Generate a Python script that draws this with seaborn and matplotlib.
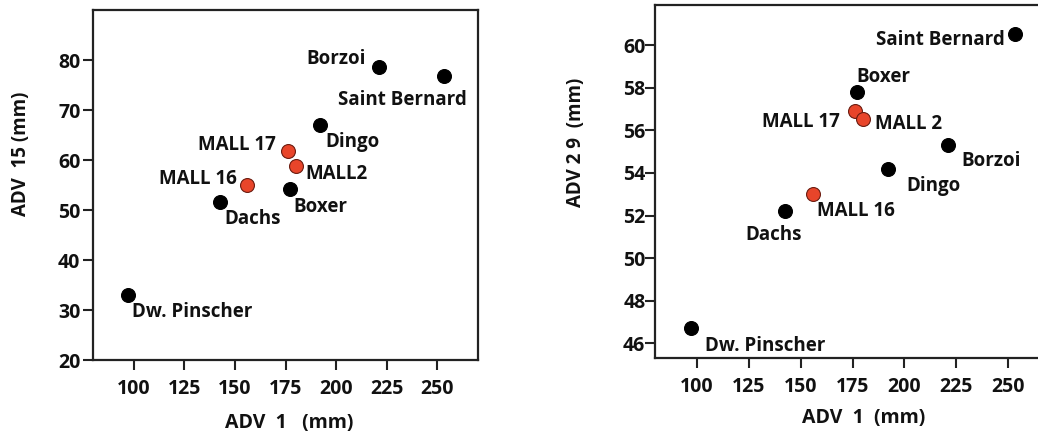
import matplotlib
matplotlib.use("Agg")
import matplotlib.pyplot as plt
import seaborn as sns
import pandas as pd

# Specimens and measurements (mm)
names = ["Dw. Pinscher", "Dachs", "MALL 16", "MALL 17", "MALL 2",
         "Boxer", "Dingo", "Borzoi", "Saint Bernard"]
group = ["dog", "dog", "fossil", "fossil", "fossil",
         "dog", "dog", "dog", "dog"]
adv1 = [97.5, 142.5, 156, 176, 180, 177, 192, 221, 253]
adv15 = [33.0, 51.7, 55.0, 61.9, 58.8, 54.3, 67.1, 78.7, 76.8]
adv29 = [46.7, 52.2, 53.0, 56.9, 56.55, 57.8, 54.2, 55.3, 60.55]

left_names = ["Dw. Pinscher", "Dachs", "MALL 16", "MALL 17", "MALL2",
              "Boxer", "Dingo", "Borzoi", "Saint Bernard"]

df = pd.DataFrame({"name": names, "group": group, "adv1": adv1,
                   "adv15": adv15, "adv29": adv29})

sns.set_theme(style="ticks")
plt.rcParams["font.family"] = ["Open Sans", "DejaVu Sans"]
plt.rcParams["font.weight"] = "bold"

palette = {"dog": "#000000", "fossil": "#e8452a"}
edges = {"dog": "#000000", "fossil": "#6b1c10"}
TXT = "#111111"
TICK_FS = 14
NOTE_FS = 13.5

fig = plt.figure(figsize=(10.38, 4.32), dpi=100)
ax1 = fig.add_axes([93 / 1038, 72 / 432, 385 / 1038, 350 / 432])
ax2 = fig.add_axes([655 / 1038, 74 / 432, 395 / 1038, 353 / 432])


def draw(ax, ycol):
    for g in ["dog", "fossil"]:
        sub = df[df["group"] == g]
        sns.scatterplot(data=sub, x="adv1", y=ycol, ax=ax, color=palette[g],
                        edgecolor=edges[g], linewidth=0.8, s=100, zorder=3,
                        legend=False)
    for side in ["top", "right", "left", "bottom"]:
        ax.spines[side].set_linewidth(1.6)
        ax.spines[side].set_color("#222222")
    ax.tick_params(axis="both", direction="out", length=7, width=1.5,
                   color="#222222", labelsize=TICK_FS, labelcolor=TXT)
    ax.set_xticks([100, 125, 150, 175, 200, 225, 250])
    for lab in ax.get_xticklabels() + ax.get_yticklabels():
        lab.set_fontweight("bold")


# Left panel: ADV 15 vs ADV 1
draw(ax1, "adv15")
ax1.set_xlim(80, 270)
ax1.set_ylim(20, 90)
ax1.set_yticks([20, 30, 40, 50, 60, 70, 80])
ax1.tick_params(axis="x", pad=7)
ax1.tick_params(axis="y", pad=2)
ax1.set_xlabel("ADV  1   (mm)", fontsize=14, fontweight="bold", color=TXT)
ax1.set_ylabel("ADV  15 (mm)", fontsize=13.5, fontweight="bold", color=TXT)
ax1.xaxis.set_label_coords(0.51, -0.152)
ax1.yaxis.set_label_coords(-0.16, 0.59)

left_offsets = {
    "Dw. Pinscher": (4, -17, "left"),
    "Dachs": (5, -18, "left"),
    "MALL 16": (-10, 6, "right"),
    "MALL 17": (-12, 5, "right"),
    "MALL2": (10, -8, "left"),
    "Boxer": (4, -19, "left"),
    "Dingo": (5, -17, "left"),
    "Borzoi": (-13, 7, "right"),
    "Saint Bernard": (23, -24, "right"),
}
for lab, x, y in zip(left_names, adv1, adv15):
    dx, dy, ha = left_offsets[lab]
    ax1.annotate(lab, (x, y), xytext=(dx, dy), textcoords="offset pixels",
                 ha=ha, va="center", fontsize=NOTE_FS, fontweight="bold",
                 color=TXT)

# Right panel: ADV 29 vs ADV 1
draw(ax2, "adv29")
ax2.set_xlim(80, 270)
ax2.set_ylim(45.3, 61.9)
ax2.set_yticks([46, 48, 50, 52, 54, 56, 58, 60])
ax2.tick_params(axis="x", pad=7)
ax2.tick_params(axis="y", pad=0)
ax2.set_xlabel("ADV  1  (mm)", fontsize=14, fontweight="bold", color=TXT)
ax2.set_ylabel("ADV 2 9  (mm)", fontsize=13.5, fontweight="bold", color=TXT)
ax2.xaxis.set_label_coords(0.527, -0.142)
ax2.yaxis.set_label_coords(-0.175, 0.61)

right_offsets = {
    "Saint Bernard": (-10, -6, "right"),
    "Boxer": (0, 15, "left"),
    "MALL 17": (-15, -11, "right"),
    "MALL 2": (12, -5, "left"),
    "Borzoi": (13, -16, "left"),
    "Dingo": (19, -17, "left"),
    "MALL 16": (4, -17, "left"),
    "Dachs": (-40, -24, "left"),
    "Dw. Pinscher": (14, -18, "left"),
}
for lab, x, y in zip(names, adv1, adv29):
    dx, dy, ha = right_offsets[lab]
    ax2.annotate(lab, (x, y), xytext=(dx, dy), textcoords="offset pixels",
                 ha=ha, va="center", fontsize=NOTE_FS, fontweight="bold",
                 color=TXT)

fig.savefig("out.png", dpi=100)
